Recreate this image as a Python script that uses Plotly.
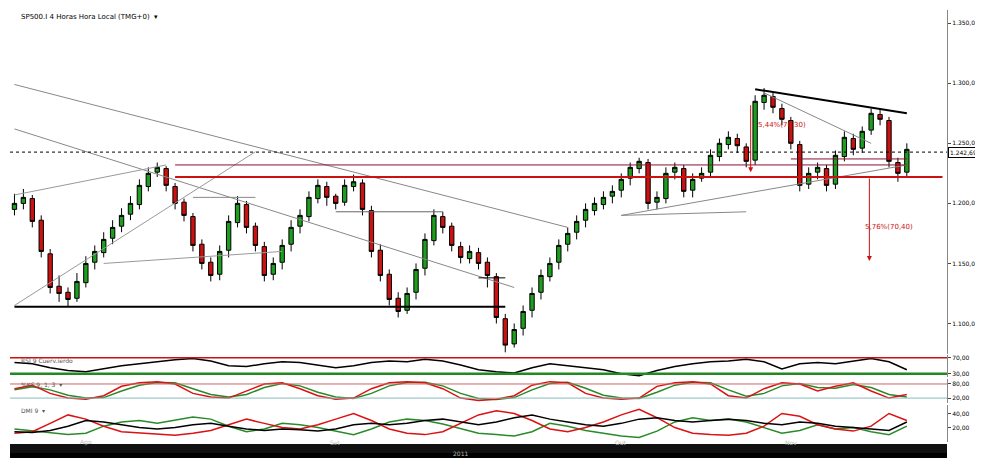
import plotly.graph_objects as go

# 4h candles, read roughly every other bar
closes = [1200, 1205, 1185, 1160, 1130, 1125, 1120, 1135, 1150, 1160,
          1170, 1180, 1190, 1200, 1215, 1225, 1230, 1215, 1200, 1190,
          1165, 1150, 1140, 1160, 1185, 1200, 1180, 1165, 1140, 1150,
          1165, 1180, 1190, 1205, 1215, 1205, 1200, 1215, 1218, 1195,
          1160, 1140, 1120, 1110, 1125, 1145, 1170, 1190, 1180, 1165,
          1155, 1160, 1150, 1140, 1105, 1082, 1095, 1110, 1125, 1140,
          1150, 1165, 1175, 1185, 1195, 1200, 1205, 1210, 1220, 1230,
          1235, 1200, 1205, 1225, 1230, 1210, 1220, 1225, 1240, 1250,
          1255, 1248, 1235, 1285, 1290, 1280, 1270, 1250, 1215, 1225,
          1230, 1215, 1240, 1255, 1245, 1260, 1275, 1270, 1235, 1225, 1245]
opens = [1195, 1200, 1204, 1186, 1158, 1131, 1126, 1121, 1134, 1151,
         1159, 1171, 1181, 1191, 1199, 1214, 1226, 1229, 1214, 1201,
         1189, 1166, 1151, 1141, 1161, 1184, 1199, 1181, 1164, 1141,
         1151, 1166, 1181, 1189, 1204, 1214, 1206, 1201, 1214, 1217,
         1194, 1161, 1141, 1121, 1111, 1126, 1146, 1169, 1189, 1181,
         1164, 1154, 1159, 1151, 1139, 1104, 1083, 1096, 1111, 1126,
         1139, 1151, 1166, 1176, 1186, 1194, 1199, 1206, 1211, 1221,
         1229, 1234, 1201, 1204, 1226, 1229, 1211, 1221, 1226, 1239,
         1249, 1254, 1247, 1236, 1284, 1289, 1279, 1269, 1249, 1216,
         1226, 1229, 1216, 1239, 1254, 1246, 1261, 1274, 1269, 1234, 1226]
highs = [1208, 1212, 1207, 1190, 1162, 1140, 1130, 1142, 1156, 1165,
         1176, 1186, 1196, 1206, 1220, 1230, 1234, 1231, 1217, 1204,
         1192, 1170, 1155, 1165, 1190, 1206, 1202, 1184, 1168, 1155,
         1170, 1186, 1195, 1210, 1220, 1218, 1208, 1220, 1224, 1220,
         1198, 1166, 1145, 1126, 1130, 1150, 1175, 1195, 1193, 1184,
         1168, 1165, 1163, 1155, 1142, 1108, 1100, 1115, 1130, 1145,
         1155, 1170, 1180, 1190, 1200, 1205, 1210, 1215, 1225, 1234,
         1238, 1237, 1210, 1230, 1234, 1232, 1225, 1230, 1245, 1254,
         1260, 1258, 1250, 1290, 1296, 1292, 1283, 1272, 1252, 1230,
         1234, 1232, 1244, 1260, 1258, 1264, 1279, 1278, 1272, 1238, 1250]
lows = [1190, 1195, 1180, 1155, 1125, 1118, 1114, 1118, 1130, 1145,
        1155, 1166, 1176, 1186, 1195, 1210, 1222, 1210, 1195, 1185,
        1160, 1145, 1135, 1136, 1155, 1180, 1175, 1160, 1135, 1136,
        1145, 1160, 1175, 1185, 1200, 1198, 1195, 1198, 1210, 1190,
        1155, 1135, 1115, 1105, 1108, 1120, 1140, 1165, 1175, 1160,
        1150, 1150, 1145, 1130, 1100, 1076, 1080, 1090, 1105, 1120,
        1135, 1145, 1160, 1170, 1180, 1190, 1195, 1200, 1205, 1215,
        1225, 1195, 1195, 1200, 1220, 1205, 1205, 1218, 1222, 1235,
        1245, 1242, 1230, 1232, 1278, 1275, 1265, 1245, 1210, 1212,
        1220, 1210, 1212, 1235, 1240, 1242, 1257, 1265, 1230, 1218, 1222]

rsi = [58, 55, 45, 38, 35, 42, 50, 55, 60, 65, 68, 62, 50, 48, 55, 60, 58,
       52, 45, 50, 58, 62, 60, 66, 62, 52, 40, 35, 32, 45, 55, 50, 45, 40,
       30, 25, 38, 48, 55, 60, 62, 66, 60, 42, 55, 58, 55, 62, 68, 60, 40]
stoch_k = [60, 75, 40, 20, 15, 30, 70, 85, 90, 80, 40, 25, 20, 50, 80, 85, 60,
           30, 15, 20, 60, 85, 90, 85, 60, 20, 10, 15, 30, 75, 90, 85, 40, 20,
           15, 20, 70, 85, 90, 80, 30, 20, 60, 85, 80, 50, 70, 85, 50, 20, 35]
stoch_d = [55, 68, 55, 32, 20, 22, 50, 75, 86, 85, 60, 35, 25, 35, 65, 82, 72,
           45, 25, 18, 40, 72, 86, 87, 72, 40, 18, 14, 22, 55, 82, 87, 62, 32,
           20, 18, 45, 75, 87, 85, 55, 28, 40, 72, 82, 65, 62, 78, 65, 35, 25]
plus_di = [18, 15, 12, 10, 12, 22, 28, 30, 26, 30, 35, 32, 22, 14, 18, 26, 24,
           20, 15, 10, 18, 28, 32, 30, 25, 18, 12, 10, 8, 14, 26, 22, 16, 12,
           8, 6, 15, 28, 34, 30, 32, 28, 20, 12, 16, 24, 18, 20, 14, 10, 22]
minus_di = [12, 14, 26, 38, 32, 22, 14, 12, 10, 9, 12, 16, 24, 32, 26, 20, 18,
            24, 32, 40, 30, 18, 12, 10, 14, 26, 38, 44, 40, 30, 18, 14, 20, 28,
            38, 46, 34, 20, 12, 10, 9, 12, 22, 40, 36, 24, 18, 15, 22, 40, 30]
adx = [14, 13, 16, 22, 30, 28, 24, 20, 18, 20, 24, 26, 22, 18, 16, 18, 17,
       15, 18, 24, 26, 24, 26, 30, 32, 28, 24, 28, 34, 38, 32, 28, 24, 22,
       26, 32, 34, 30, 28, 30, 32, 30, 26, 24, 28, 26, 22, 20, 18, 16, 28]

price_ticks = [1100, 1150, 1200, 1250, 1300, 1350]
month_labels = ["Ago", "Set", "Out", "Nov"]
month_pos = [8, 36, 68, 87]

n = len(closes)
idx = list(range(n))
ind_x = [i * 2 for i in range(len(rsi))]
XR = [-0.5, 104.5]

fig = go.Figure()
fig.add_trace(go.Candlestick(
    x=idx, open=opens, high=highs, low=lows, close=closes,
    increasing=dict(fillcolor="#1e9e1e", line=dict(color="black", width=1)),
    decreasing=dict(fillcolor="#cc1111", line=dict(color="black", width=1)),
    whiskerwidth=0, xaxis="x", yaxis="y", showlegend=False))

fig.add_trace(go.Scatter(x=ind_x, y=rsi, mode="lines", line=dict(color="black", width=1.5),
                         xaxis="x2", yaxis="y2", showlegend=False))
fig.add_trace(go.Scatter(x=ind_x, y=stoch_d, mode="lines", line=dict(color="#2a8a2a", width=1.5),
                         xaxis="x3", yaxis="y3", showlegend=False))
fig.add_trace(go.Scatter(x=ind_x, y=stoch_k, mode="lines", line=dict(color="#dd1111", width=1.5),
                         xaxis="x3", yaxis="y3", showlegend=False))
fig.add_trace(go.Scatter(x=ind_x, y=plus_di, mode="lines", line=dict(color="#2a8a2a", width=1.5),
                         xaxis="x4", yaxis="y4", showlegend=False))
fig.add_trace(go.Scatter(x=ind_x, y=minus_di, mode="lines", line=dict(color="#dd1111", width=1.5),
                         xaxis="x4", yaxis="y4", showlegend=False))
fig.add_trace(go.Scatter(x=ind_x, y=adx, mode="lines", line=dict(color="black", width=1.5),
                         xaxis="x4", yaxis="y4", showlegend=False))

# drawn studies on main pane
def seg(x0, y0, x1, y1, color, width=1, dash=None, xr="x", yr="y"):
    fig.add_shape(type="line", x0=x0, y0=y0, x1=x1, y1=y1, xref=xr, yref=yr,
                  line=dict(color=color, width=width, dash=dash))

seg(0, 1299, 62, 1180, "#888888")
seg(0, 1262, 56, 1130, "#888888")
seg(0, 1115, 27, 1243, "#999999")
seg(0, 1207, 17, 1232, "#999999")
seg(10, 1150, 30, 1160, "#999999")
seg(20, 1205, 27, 1205, "#888888")
seg(36, 1193, 48, 1193, "#666666")
seg(68, 1190, 82, 1193, "#888888")
seg(68, 1190, 100, 1232, "#888888")
seg(84, 1292, 96, 1250, "#888888")
seg(83, 1295, 100, 1275, "black", 2)
seg(0, 1114, 55, 1114, "black", 2)
seg(18, 1222, 104, 1222, "#cc1111", 2)
seg(18, 1232, 100, 1232, "#881133", 1)
seg(87, 1237, 100, 1237, "#881133", 1)
seg(-0.5, 1242.69, 104.5, 1242.69, "black", 1, "dot")
seg(52, 1138, 55, 1138, "black", 1)

fig.add_annotation(x=82.5, y=1226, ax=82.5, ay=1283, xref="x", yref="y", axref="x", ayref="y",
                   showarrow=True, arrowhead=2, arrowcolor="#cc1111", arrowwidth=1, text="")
fig.add_annotation(x=95.8, y=1152, ax=95.8, ay=1222, xref="x", yref="y", axref="x", ayref="y",
                   showarrow=True, arrowhead=2, arrowcolor="#cc1111", arrowwidth=1, text="")
fig.add_annotation(x=86, y=1265, xref="x", yref="y", text="5,44%(70,30)", showarrow=False,
                   font=dict(size=7, color="#cc1111"))
fig.add_annotation(x=98, y=1180, xref="x", yref="y", text="5,76%(70,40)", showarrow=False,
                   font=dict(size=7, color="#cc1111"))
fig.add_annotation(x=1, y=1242.69, xref="paper", yref="y", text="1.242,69", showarrow=False,
                   xanchor="left", xshift=1, bgcolor="white", bordercolor="black", borderwidth=1,
                   font=dict(size=6, color="black"), borderpad=1)

# indicator levels
seg(XR[0], 70, XR[1], 70, "#cc1111", 1.5, xr="x2", yr="y2")
seg(XR[0], 30, XR[1], 30, "#228822", 2.5, xr="x2", yr="y2")
seg(XR[0], 80, XR[1], 80, "#cc6666", 1, xr="x3", yr="y3")
seg(XR[0], 20, XR[1], 20, "#88bbbb", 1, xr="x3", yr="y3")

fig.add_annotation(x=0.01, y=0.997, xref="paper", yref="paper", text="SP500.I 4 Horas Hora Local (TMG+0)  ▾",
                   showarrow=False, xanchor="left", yanchor="top", font=dict(size=7, color="black"))
for t, yp in [("RSI 9 Cuerv.ierdo", 0.236), ("%KS 9, 1, 3  ▾", 0.183), ("DMI 9  ▾", 0.126)]:
    fig.add_annotation(x=0.01, y=yp, xref="paper", yref="paper", text=t, showarrow=False,
                       xanchor="left", yanchor="top", font=dict(size=6, color="#555555"))

# time bar
fig.add_shape(type="rect", x0=0, x1=1, y0=-0.01, y1=0.02, xref="paper", yref="paper",
              fillcolor="black", line=dict(width=0), layer="above")
fig.add_shape(type="rect", x0=0, x1=1, y0=0.02, y1=0.04, xref="paper", yref="paper",
              fillcolor="#111111", line=dict(width=0), layer="above")
for lab, p in zip(month_labels, month_pos):
    fig.add_annotation(x=p, y=0.03, xref="x", yref="paper", text=lab, showarrow=False,
                       font=dict(size=6, color="#bbbbbb"))
fig.add_annotation(x=50, y=0.007, xref="x", yref="paper", text="2011", showarrow=False,
                   font=dict(size=6, color="#bbbbbb"))

ax_common = dict(range=XR, showgrid=False, zeroline=False, showticklabels=False, showline=False)
right = dict(side="right", showgrid=False, zeroline=False, tickfont=dict(size=6, color="black"),
             ticks="outside", ticklen=3, showline=True, linecolor="#888888")
fig.update_layout(
    width=983, height=458, paper_bgcolor="white", plot_bgcolor="white",
    margin=dict(l=2, r=44, t=2, b=4),
    xaxis=dict(domain=[0, 1], anchor="y", rangeslider=dict(visible=False), **ax_common),
    xaxis2=dict(domain=[0, 1], anchor="y2", **ax_common),
    xaxis3=dict(domain=[0, 1], anchor="y3", **ax_common),
    xaxis4=dict(domain=[0, 1], anchor="y4", **ax_common),
    yaxis=dict(domain=[0.24, 1], range=[1075, 1361], tickvals=price_ticks,
               ticktext=[f"1.{v - 1000:03d},00" for v in price_ticks], **right),
    yaxis2=dict(domain=[0.188, 0.236], range=[22, 76], tickvals=[30, 70], ticktext=["30,00", "70,00"], **right),
    yaxis3=dict(domain=[0.131, 0.183], range=[0, 100], tickvals=[20, 80], ticktext=["20,00", "80,00"], **right),
    yaxis4=dict(domain=[0.045, 0.126], range=[0, 52], tickvals=[20, 40], ticktext=["20,00", "40,00"], **right),
    font=dict(family="DejaVu Sans"),
)

fig.write_html("out.html")
